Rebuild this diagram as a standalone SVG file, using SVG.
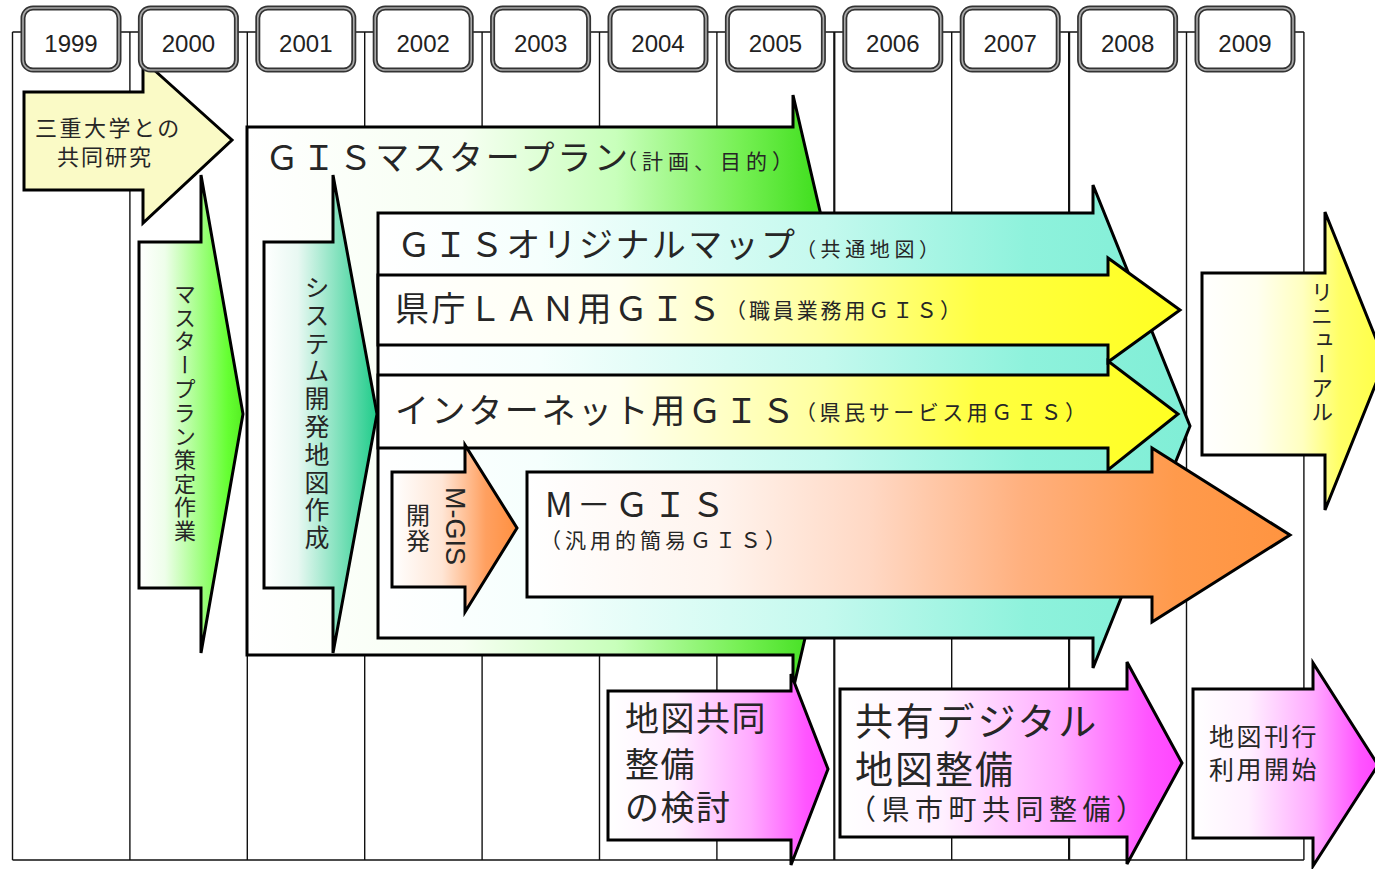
<svg xmlns="http://www.w3.org/2000/svg" width="1375" height="869" viewBox="0 0 1375 869">
<style>
.arrow{stroke:#000;stroke-width:3;stroke-linejoin:miter}
.jp{font-family:'Noto Sans CJK JP','Noto Sans CJK SC',sans-serif;fill:#262626}
.jpm{font-family:'Liberation Sans','Noto Sans CJK JP','Noto Sans CJK SC',sans-serif;fill:#262626}
.vert{writing-mode:vertical-rl;text-anchor:middle}
.grid line{stroke:#111;stroke-width:1.4}
.yb-o{fill:#fff;stroke:#333;stroke-width:5}
.yb-i{fill:none;stroke:#aaa;stroke-width:1.6}
.yt{font-family:'Liberation Sans',Arial,sans-serif;font-size:24px;fill:#222;text-anchor:middle}
.big{font-size:34px}
</style>
<defs>
<linearGradient id="gGreen1" x1="0" x2="1" y1="0" y2="0"><stop offset="0" stop-color="#ffffff"/><stop offset="0.25" stop-color="#eefeea"/><stop offset="0.85" stop-color="#66ff33"/><stop offset="1" stop-color="#55ee22"/></linearGradient>
<linearGradient id="gGreen2" x1="0" x2="1" y1="0" y2="0"><stop offset="0" stop-color="#ffffff"/><stop offset="0.35" stop-color="#f6fff2"/><stop offset="0.6" stop-color="#c8ffbb"/><stop offset="0.8" stop-color="#77f055"/><stop offset="0.92" stop-color="#44e022"/><stop offset="1" stop-color="#3ada1a"/></linearGradient>
<linearGradient id="gTeal" x1="0" x2="1" y1="0" y2="0"><stop offset="0" stop-color="#ffffff"/><stop offset="0.3" stop-color="#e8f8f2"/><stop offset="1" stop-color="#1fcc8a"/></linearGradient>
<linearGradient id="gCyan" x1="0" x2="1" y1="0" y2="0"><stop offset="0" stop-color="#ffffff"/><stop offset="0.2" stop-color="#f5fffd"/><stop offset="0.55" stop-color="#c4f9ee"/><stop offset="0.8" stop-color="#8ef2dc"/><stop offset="1" stop-color="#80eed6"/></linearGradient>
<linearGradient id="gYellow" x1="0" x2="1" y1="0" y2="0"><stop offset="0" stop-color="#ffffff"/><stop offset="0.3" stop-color="#fffff0"/><stop offset="0.55" stop-color="#ffffa0"/><stop offset="0.75" stop-color="#ffff40"/><stop offset="1" stop-color="#ffff22"/></linearGradient>
<linearGradient id="gOrange" x1="0" x2="1" y1="0" y2="0"><stop offset="0" stop-color="#ffffff"/><stop offset="0.25" stop-color="#fff4ee"/><stop offset="0.45" stop-color="#ffd8c4"/><stop offset="0.65" stop-color="#ffb07e"/><stop offset="0.85" stop-color="#ff9a4c"/><stop offset="1" stop-color="#ff9440"/></linearGradient>
<linearGradient id="gOrangeS" x1="0" x2="1" y1="0" y2="0"><stop offset="0" stop-color="#ffffff"/><stop offset="0.4" stop-color="#ffe6d6"/><stop offset="0.75" stop-color="#ffa060"/><stop offset="1" stop-color="#ff9040"/></linearGradient>
<linearGradient id="gYellowR" x1="0" x2="1" y1="0" y2="0"><stop offset="0" stop-color="#ffffff"/><stop offset="0.3" stop-color="#fffff0"/><stop offset="0.55" stop-color="#ffffc0"/><stop offset="0.75" stop-color="#ffff66"/><stop offset="1" stop-color="#ffff44"/></linearGradient>
<linearGradient id="gMagenta" x1="0" x2="1" y1="0" y2="0"><stop offset="0" stop-color="#ffffff"/><stop offset="0.3" stop-color="#fff0ff"/><stop offset="0.65" stop-color="#ffaaff"/><stop offset="0.9" stop-color="#ff55ff"/><stop offset="1" stop-color="#ff44ff"/></linearGradient>
</defs>
<rect width="1375" height="869" fill="#fff"/>
<g id="connectors" class="grid">
<line x1="12.5" y1="32" x2="1303.9" y2="32"/>
<line x1="12.5" y1="860" x2="1303.9" y2="860"/>
<line x1="12.5" y1="32" x2="12.5" y2="860"/>
<line x1="129.9" y1="32" x2="129.9" y2="860"/>
<line x1="247.3" y1="32" x2="247.3" y2="860"/>
<line x1="364.7" y1="32" x2="364.7" y2="860"/>
<line x1="482.1" y1="32" x2="482.1" y2="860"/>
<line x1="599.5" y1="32" x2="599.5" y2="860"/>
<line x1="716.9" y1="32" x2="716.9" y2="860"/>
<line x1="834.3" y1="32" x2="834.3" y2="860" style="stroke-width:2.2"/>
<line x1="951.7" y1="32" x2="951.7" y2="860"/>
<line x1="1069.1" y1="32" x2="1069.1" y2="860" style="stroke-width:2.2"/>
<line x1="1186.5" y1="32" x2="1186.5" y2="860"/>
<line x1="1303.9" y1="32" x2="1303.9" y2="860"/>
</g>
<g id="mie-joint-research">
<path class="arrow" d="M24 92 H143 V60 L232 140 L143 223 V190 H24 Z" fill="#fafac6"/>
<text class="jpm" font-size="22"><tspan x="35" y="136" letter-spacing="2.5">三重大学との</tspan><tspan x="57" y="165" letter-spacing="2">共同研究</tspan></text>
</g>
<g id="masterplan-work">
<path class="arrow" d="M139 242 H201 V175 L243 414 L201 653 V588 H139 Z" fill="url(#gGreen1)"/>
<text class="jp vert" x="185" y="413" font-size="22" letter-spacing="1.7">マスタープラン策定作業</text>
</g>
<g id="gis-masterplan">
<path class="arrow" d="M247 127 H793 V95 L862 392 L793 690 V655 H247 Z" fill="url(#gGreen2)"/>
<text class="jp big" x="265" y="170" textLength="363" lengthAdjust="spacing">ＧＩＳマスタープラン</text>
<text class="jp" x="616" y="169" font-size="21" textLength="177" lengthAdjust="spacing">（計画、目的）</text>
</g>
<g id="system-map">
<path class="arrow" d="M264 242 H333 V175 L377 414 L333 653 V588 H264 Z" fill="url(#gTeal)"/>
<text class="jp vert" x="317" y="414" font-size="25" letter-spacing="2.8">システム開発地図作成</text>
</g>
<g id="gis-original-map">
<path class="arrow" d="M378 213 H1093 V185 L1190 426 L1093 668 V638 H378 Z" fill="url(#gCyan)"/>
<text class="jp big" x="397" y="257" textLength="398" lengthAdjust="spacing">ＧＩＳオリジナルマップ</text>
<text class="jp" x="796" y="257" font-size="20" textLength="143" lengthAdjust="spacing">（共通地図）</text>
</g>
<g id="lan-gis">
<path class="arrow" d="M378 275 H1108 V258 L1180 310 L1108 362 V345 H378 Z" fill="url(#gYellow)"/>
<text class="jp big" x="395" y="321" textLength="326" lengthAdjust="spacing">県庁ＬＡＮ用ＧＩＳ</text>
<text class="jp" x="725" y="318" font-size="21" textLength="236" lengthAdjust="spacing">（職員業務用ＧＩＳ）</text>
</g>
<g id="internet-gis">
<path class="arrow" d="M378 375 H1108 V361 L1178 414 L1108 470 V448 H378 Z" fill="url(#gYellow)"/>
<text class="jp big" x="395" y="423" textLength="400" lengthAdjust="spacing">インターネット用ＧＩＳ</text>
<text class="jp" x="795" y="420" font-size="21" textLength="291" lengthAdjust="spacing">（県民サービス用ＧＩＳ）</text>
</g>
<g id="mgis-dev">
<path class="arrow" d="M392 472 H465 V445 L517 528 L465 612 V587 H392 Z" fill="url(#gOrangeS)"/>
<text class="jp vert" x="418" y="529" font-size="24" letter-spacing="2">開発</text>
<text class="vert" x="455" y="526" font-size="27" style="font-family:'Liberation Sans',Arial,sans-serif;fill:#262626">M-GIS</text>
</g>
<g id="mgis">
<path class="arrow" d="M527 472 H1152 V448 L1290 535 L1152 622 V597 H527 Z" fill="url(#gOrange)"/>
<text class="jp big" x="545" y="517" textLength="180" lengthAdjust="spacing">M－ＧＩＳ</text>
<text class="jp" x="540" y="548" font-size="21" textLength="246" lengthAdjust="spacing">（汎用的簡易ＧＩＳ）</text>
</g>
<g id="renewal">
<path class="arrow" d="M1202 273 H1325 V212 L1385 361 L1325 510 V455 H1202 Z" fill="url(#gYellowR)"/>
<text class="jp vert" x="1322" y="353" font-size="22" letter-spacing="2">リニューアル</text>
</g>
<g id="map-joint-study">
<path class="arrow" d="M608 691 H791 V674 L828 769 L791 865 V840 H608 Z" fill="url(#gMagenta)"/>
<text class="jpm big" letter-spacing="1.5"><tspan x="625" y="731">地図共同</tspan><tspan x="625" y="777">整備</tspan><tspan x="625" y="820">の検討</tspan></text>
</g>
<g id="shared-digital-map">
<path class="arrow" d="M840 689 H1127 V662 L1182 763 L1127 864 V837 H840 Z" fill="url(#gMagenta)"/>
<text class="jpm" font-size="38"><tspan x="855" y="735" letter-spacing="2.8">共有デジタル</tspan><tspan x="855" y="783" letter-spacing="2">地図整備</tspan><tspan x="848" y="820" font-size="28" letter-spacing="5.5">（県市町共同整備）</tspan></text>
</g>
<g id="map-publish">
<path class="arrow" d="M1193 689 H1313 V663 L1378 765 L1313 866 V838 H1193 Z" fill="url(#gMagenta)"/>
<text class="jpm" font-size="25" letter-spacing="2.5"><tspan x="1209" y="746">地図刊行</tspan><tspan x="1209" y="779">利用開始</tspan></text>
</g>
<g id="year-1999"><rect class="yb-o" x="23" y="8" width="96" height="62" rx="10"/><rect class="yb-i" x="23" y="8" width="96" height="62" rx="10"/><text class="yt" x="71" y="52">1999</text></g>
<g id="year-2000"><rect class="yb-o" x="140.4" y="8" width="96" height="62" rx="10"/><rect class="yb-i" x="140.4" y="8" width="96" height="62" rx="10"/><text class="yt" x="188.4" y="52">2000</text></g>
<g id="year-2001"><rect class="yb-o" x="257.8" y="8" width="96" height="62" rx="10"/><rect class="yb-i" x="257.8" y="8" width="96" height="62" rx="10"/><text class="yt" x="305.8" y="52">2001</text></g>
<g id="year-2002"><rect class="yb-o" x="375.2" y="8" width="96" height="62" rx="10"/><rect class="yb-i" x="375.2" y="8" width="96" height="62" rx="10"/><text class="yt" x="423.2" y="52">2002</text></g>
<g id="year-2003"><rect class="yb-o" x="492.6" y="8" width="96" height="62" rx="10"/><rect class="yb-i" x="492.6" y="8" width="96" height="62" rx="10"/><text class="yt" x="540.6" y="52">2003</text></g>
<g id="year-2004"><rect class="yb-o" x="610" y="8" width="96" height="62" rx="10"/><rect class="yb-i" x="610" y="8" width="96" height="62" rx="10"/><text class="yt" x="658" y="52">2004</text></g>
<g id="year-2005"><rect class="yb-o" x="727.4" y="8" width="96" height="62" rx="10"/><rect class="yb-i" x="727.4" y="8" width="96" height="62" rx="10"/><text class="yt" x="775.4" y="52">2005</text></g>
<g id="year-2006"><rect class="yb-o" x="844.8" y="8" width="96" height="62" rx="10"/><rect class="yb-i" x="844.8" y="8" width="96" height="62" rx="10"/><text class="yt" x="892.8" y="52">2006</text></g>
<g id="year-2007"><rect class="yb-o" x="962.2" y="8" width="96" height="62" rx="10"/><rect class="yb-i" x="962.2" y="8" width="96" height="62" rx="10"/><text class="yt" x="1010.2" y="52">2007</text></g>
<g id="year-2008"><rect class="yb-o" x="1079.6" y="8" width="96" height="62" rx="10"/><rect class="yb-i" x="1079.6" y="8" width="96" height="62" rx="10"/><text class="yt" x="1127.6" y="52">2008</text></g>
<g id="year-2009"><rect class="yb-o" x="1197" y="8" width="96" height="62" rx="10"/><rect class="yb-i" x="1197" y="8" width="96" height="62" rx="10"/><text class="yt" x="1245" y="52">2009</text></g>
</svg>
